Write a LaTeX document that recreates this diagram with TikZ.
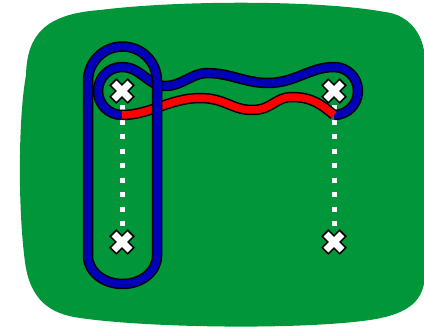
\documentclass[tikz,border=0pt]{standalone}
\usetikzlibrary{calc}
\definecolor{board}{RGB}{2,150,58}
\definecolor{loopblue}{RGB}{0,0,185}
\definecolor{loopred}{RGB}{255,0,0}
\tikzset{
  rim/.style={draw=black, line width=10.5pt, line join=round},
  bluestroke/.style={draw=loopblue, line width=7.5pt, line join=round},
  redstroke/.style={draw=loopred, line width=7.5pt, line join=round},
  dotline/.style={draw=white, line width=5pt, dash pattern=on 5pt off 9.5pt},
  xmark/.pic={
    \draw[black, line width=10pt] (-9.3,-9.3) -- (9.3,9.3);
    \draw[black, line width=10pt] (-9.3,9.3) -- (9.3,-9.3);
    \draw[white, line width=7pt] (-8,-8) -- (8,8);
    \draw[white, line width=7pt] (-8,8) -- (8,-8);
  }
}
\begin{document}
\begin{tikzpicture}[x=1pt, y=-1pt]
\useasboundingbox (0,0) rectangle (424,327);

% rounded board
\fill[board] (26,75) .. controls (27,35) and (45,14) .. (100,10)
  .. controls (180,0) and (320,0) .. (385,12)
  .. controls (405,14) and (424,30) .. (425,60)
  -- (425,275)
  .. controls (424,300) and (410,314) .. (370,320)
  .. controls (300,330) and (150,328) .. (80,318)
  .. controls (50,314) and (30,300) .. (25,262)
  .. controls (18,210) and (18,120) .. cycle;

% cross positions
\coordinate (tl) at (122,91);
\coordinate (tr) at (334,91);
\coordinate (bl) at (122,242);
\coordinate (br) at (334,242);

% dotted links between upper and lower crosses
\draw[dotline] ($(tl)+(0,14)$) -- ($(bl)+(0,-12)$);
\draw[dotline] ($(tr)+(0,14)$) -- ($(br)+(0,-12)$);

% wavy loop joining the two upper crosses
\def\bluepart{(122,115) arc[start angle=90, end angle=270, radius=24]
  .. controls (141,67) and (148,86) .. (165,86)
  .. controls (182,86) and (192,73) .. (207,73)
  .. controls (230,73) and (245,83) .. (268,83)
  .. controls (295,83) and (310,67) .. (334,67)
  arc[start angle=-90, end angle=90, radius=24]}
\def\redpart{(122,115) .. controls (150,115) and (170,98) .. (200,98)
  .. controls (225,98) and (232,110) .. (252,110)
  .. controls (272,110) and (275,97) .. (292,97)
  .. controls (312,97) and (322,105) .. (334,115)}
\path[rim] \bluepart;
\path[rim] \redpart;
\path[bluestroke] \bluepart;
\path[redstroke] \redpart;

% tall loop round the left column
\def\tallloop{(88,81) -- (88,256)
  arc[start angle=180, end angle=0, x radius=34.5, y radius=28]
  -- (157,81) arc[start angle=0, end angle=-180, radius=34.5] -- cycle}
\path[rim] \tallloop;
\path[bluestroke] \tallloop;

% crosses
\pic at (tl) {xmark};
\pic at (tr) {xmark};
\pic at (bl) {xmark};
\pic at (br) {xmark};
\end{tikzpicture}
\end{document}
